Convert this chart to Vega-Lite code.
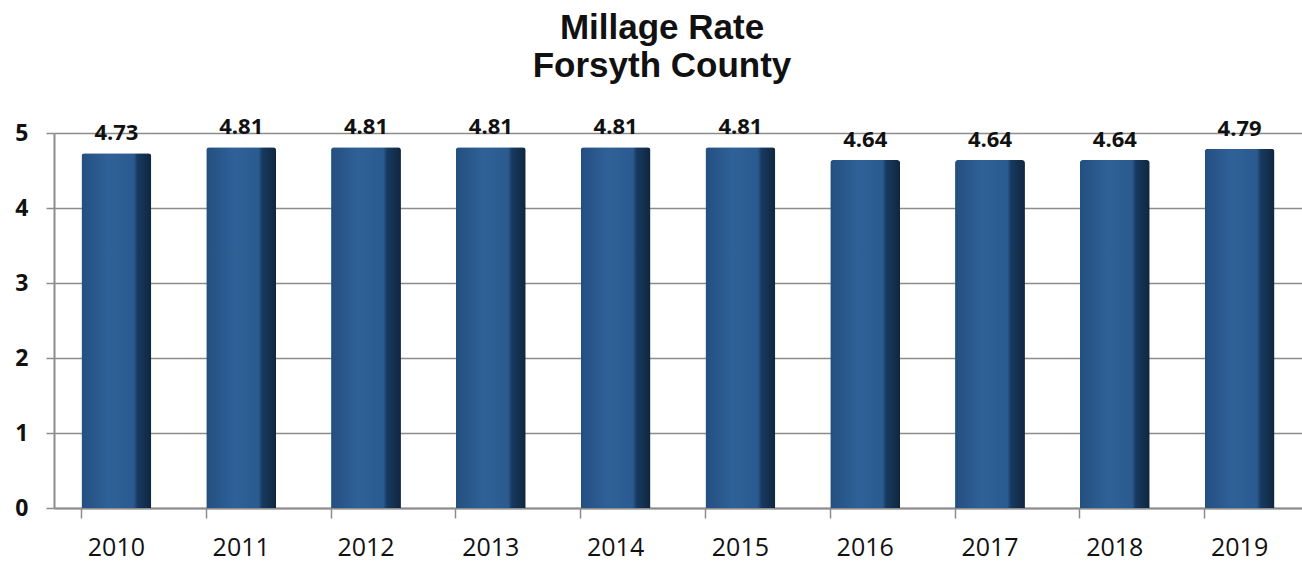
{
  "$schema": "https://vega.github.io/schema/vega-lite/v6.json",
  "autosize": "none",
  "width": 1248,
  "height": 375,
  "padding": {"left": 54, "right": 0, "top": 133, "bottom": 54},
  "background": "white",
  "title": {
    "text": ["Millage Rate", "Forsyth County"],
    "font": "Liberation Sans",
    "fontSize": 35,
    "fontWeight": "bold",
    "color": "#111111",
    "lineHeight": 38,
    "anchor": "middle",
    "dx": -16,
    "offset": 32
  },
  "data": {
    "values": [
      {"year": "2010", "rate": 4.73},
      {"year": "2011", "rate": 4.81},
      {"year": "2012", "rate": 4.81},
      {"year": "2013", "rate": 4.81},
      {"year": "2014", "rate": 4.81},
      {"year": "2015", "rate": 4.81},
      {"year": "2016", "rate": 4.64},
      {"year": "2017", "rate": 4.64},
      {"year": "2018", "rate": 4.64},
      {"year": "2019", "rate": 4.79}
    ]
  },
  "config": {
    "view": {"stroke": null}
  },
  "encoding": {
    "x": {
      "field": "year",
      "type": "ordinal",
      "title": null,
      "scale": {"paddingInner": 0.44, "paddingOuter": 0.22},
      "axis": {
        "labelAngle": 0,
        "labelFont": "Open Sans",
        "labelFontSize": 25,
        "labelColor": "#111111",
        "labelPadding": 17,
        "bandPosition": 0,
        "tickSize": 10,
        "tickColor": "#8c8c8c",
        "tickWidth": 1.5,
        "domainColor": "#8c8c8c",
        "domainWidth": 2
      }
    },
    "y": {
      "field": "rate",
      "type": "quantitative",
      "title": null,
      "scale": {"domain": [0, 5], "nice": false},
      "axis": {
        "values": [0, 1, 2, 3, 4, 5],
        "labelFont": "Open Sans",
        "labelFontWeight": "bold",
        "labelFontSize": 23,
        "labelColor": "#111111",
        "labelPadding": 18,
        "tickSize": 8,
        "tickColor": "#8c8c8c",
        "tickWidth": 1.5,
        "domainColor": "#8c8c8c",
        "domainWidth": 2,
        "grid": true,
        "gridColor": "#8c8c8c",
        "gridWidth": 1.5
      }
    }
  },
  "layer": [
    {
      "mark": {
        "type": "bar",
        "cornerRadiusTopLeft": 3,
        "cornerRadiusTopRight": 3,
        "color": {
          "gradient": "linear",
          "x1": 0, "y1": 0, "x2": 1, "y2": 0,
          "stops": [
            {"offset": 0, "color": "#244f80"},
            {"offset": 0.4, "color": "#2f6198"},
            {"offset": 0.75, "color": "#2a5a8e"},
            {"offset": 0.8, "color": "#173a60"},
            {"offset": 1, "color": "#10263f"}
          ]
        }
      }
    },
    {
      "mark": {
        "type": "text",
        "font": "Open Sans",
        "fontWeight": "bold",
        "fontSize": 22,
        "color": "#111111",
        "baseline": "middle",
        "dy": -20
      },
      "encoding": {
        "text": {"field": "rate", "type": "quantitative", "format": ".2f"}
      }
    }
  ]
}
